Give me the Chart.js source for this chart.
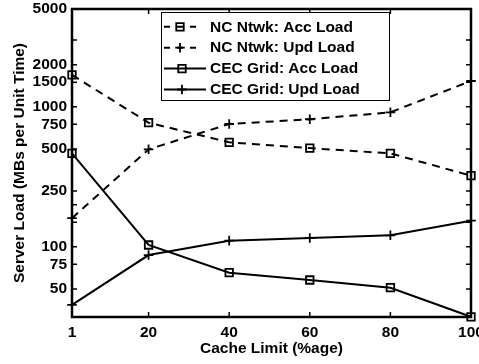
<!DOCTYPE html>
<html><head><meta charset="utf-8">
<script src="https://cdn.jsdelivr.net/npm/chart.js@4.4.0/dist/chart.umd.min.js"></script>
<style>html,body{margin:0;padding:0;background:#fff;overflow:hidden}</style>
</head><body>
<canvas id="c" width="479" height="364" style="width:479px;height:364px;display:block"></canvas>
<script>
const cacheLimits = [1, 20, 40, 60, 80, 100];
const ncAccLoad  = [1690, 770, 558, 507, 465, 322];
const ncUpdLoad  = [160, 497, 754, 815, 914, 1530];
const cecAccLoad = [465, 103, 65.3, 57.9, 51.0, 31.6];
const cecUpdLoad = [38.4, 87.3, 110.6, 115.6, 120.8, 153.7];
const seriesNames = ['NC Ntwk: Acc Load', 'NC Ntwk: Upd Load', 'CEC Grid: Acc Load', 'CEC Grid: Upd Load'];
const yTickValues = [50, 75, 100, 150, 200, 250, 500, 750, 1000, 1500, 2000, 3000, 5000];
const yTickLabels = [50, 75, 100, 250, 500, 750, 1000, 1500, 2000, 5000];
const xTickValues = [1, 20, 40, 60, 80, 100];

const FAMILY = '"Liberation Sans", Arial, Helvetica, sans-serif';
const FONT = {family: FAMILY, size: 15.5, weight: 'bold'};
Chart.defaults.color = '#000';

function mk(name, vals, dashed, style) {
  return {
    label: name,
    data: cacheLimits.map((x, i) => ({x: x, y: vals[i]})),
    borderColor: '#000', borderWidth: 2,
    borderDash: dashed ? [8, 6] : [],
    pointStyle: style,
    pointRadius: style === 'rect' ? 5.3 : 4.8,
    pointHoverRadius: style === 'rect' ? 5.3 : 4.8,
    pointBorderWidth: 1.8,
    pointBackgroundColor: 'rgba(0,0,0,0)',
    pointBorderColor: '#000',
    fill: false, tension: 0, clip: false,
    _dashed: dashed
  };
}

const framePlugin = {
  id: 'frame',
  beforeDatasetsDraw(chart) {
    const {ctx, chartArea: a, scales} = chart;
    ctx.save();
    ctx.strokeStyle = '#000';
    ctx.lineWidth = 1.5;
    const tl = 5;
    ctx.beginPath();
    scales.y.ticks.forEach(t => {
      const p = scales.y.getPixelForValue(t.value);
      ctx.moveTo(a.left, p); ctx.lineTo(a.left + tl, p);
      ctx.moveTo(a.right, p); ctx.lineTo(a.right - tl, p);
    });
    scales.x.ticks.forEach(t => {
      const p = scales.x.getPixelForValue(t.value);
      ctx.moveTo(p, a.bottom); ctx.lineTo(p, a.bottom - tl);
      ctx.moveTo(p, a.top); ctx.lineTo(p, a.top + tl);
    });
    ctx.stroke();
    ctx.lineWidth = 2.5;
    ctx.strokeRect(a.left, a.top, a.right - a.left, a.bottom - a.top);
    ctx.restore();
  }
};

const legendPlugin = {
  id: 'boxLegend',
  afterDatasetsDraw(chart) {
    const {ctx} = chart;
    const bx = 161.5, by = 12.5, bw = 228, bh = 88;
    ctx.save();
    ctx.fillStyle = '#fff';
    ctx.fillRect(bx, by, bw, bh);
    ctx.strokeStyle = '#000';
    ctx.lineWidth = 1;
    ctx.strokeRect(bx, by, bw, bh);
    chart.data.datasets.forEach((ds, i) => {
      const y = 26.8 + i * 20.9;
      ctx.strokeStyle = '#000';
      ctx.lineWidth = 2;
      ctx.beginPath();
      if (ds._dashed) {
        ctx.setLineDash([6, 7]);
        ctx.moveTo(164, y); ctx.lineTo(196, y);
      } else {
        ctx.setLineDash([]);
        ctx.moveTo(164, y); ctx.lineTo(206, y);
      }
      ctx.stroke();
      ctx.setLineDash([]);
      const mx = ds._dashed ? 180 : 182;
      ctx.fillStyle = 'rgba(0,0,0,0)';
      ctx.lineWidth = ds.pointBorderWidth;
      Chart.helpers.drawPoint(ctx, {
        pointStyle: ds.pointStyle, radius: ds.pointRadius, borderWidth: ds.pointBorderWidth, rotation: 0
      }, mx, y);
      ctx.fillStyle = '#000';
      ctx.font = 'bold 15.5px ' + FAMILY;
      ctx.textAlign = 'left';
      ctx.textBaseline = 'middle';
      ctx.fillText(ds.label, 210, y + 0.5);
    });
    ctx.restore();
  }
};

new Chart(document.getElementById('c'), {
  type: 'line',
  data: {
    datasets: [
      mk(seriesNames[0], ncAccLoad, true, 'rect'),
      mk(seriesNames[1], ncUpdLoad, true, 'cross'),
      mk(seriesNames[2], cecAccLoad, false, 'rect'),
      mk(seriesNames[3], cecUpdLoad, false, 'cross')
    ]
  },
  options: {
    responsive: false,
    animation: false,
    devicePixelRatio: 1,
    layout: {padding: {left: 0, right: 8, top: 9, bottom: 0}},
    plugins: {legend: {display: false}, tooltip: {enabled: false}},
    events: [],
    scales: {
      x: {
        type: 'linear', min: 1, max: 100,
        afterBuildTicks(s) { s.ticks = xTickValues.map(v => ({value: v})); },
        afterFit(s) { s.height = 47; s.paddingLeft = 0; s.paddingRight = 0; },
        ticks: {autoSkip: false, maxRotation: 0, padding: 6, font: FONT, color: '#000',
                callback: v => String(v)},
        grid: {display: false, drawTicks: false},
        border: {display: false},
        title: {display: true, text: 'Cache Limit (%age)', font: FONT, color: '#000',
                padding: {top: 0, bottom: 6}}
      },
      y: {
        type: 'logarithmic', min: 31.5, max: 5000,
        afterBuildTicks(s) { s.ticks = yTickValues.map(v => ({value: v})); },
        afterFit(s) { s.width = 72; s.paddingTop = 0; s.paddingBottom = 0; },
        ticks: {autoSkip: false, padding: 5, font: FONT, color: '#000',
                callback: v => yTickLabels.includes(v) ? String(v) : ''},
        grid: {display: false, drawTicks: false},
        border: {display: false},
        title: {display: true, text: 'Server Load (MBs per Unit Time)', font: FONT, color: '#000',
                padding: {top: 10, bottom: 0}}
      }
    }
  },
  plugins: [framePlugin, legendPlugin]
});
</script>
</body></html>
